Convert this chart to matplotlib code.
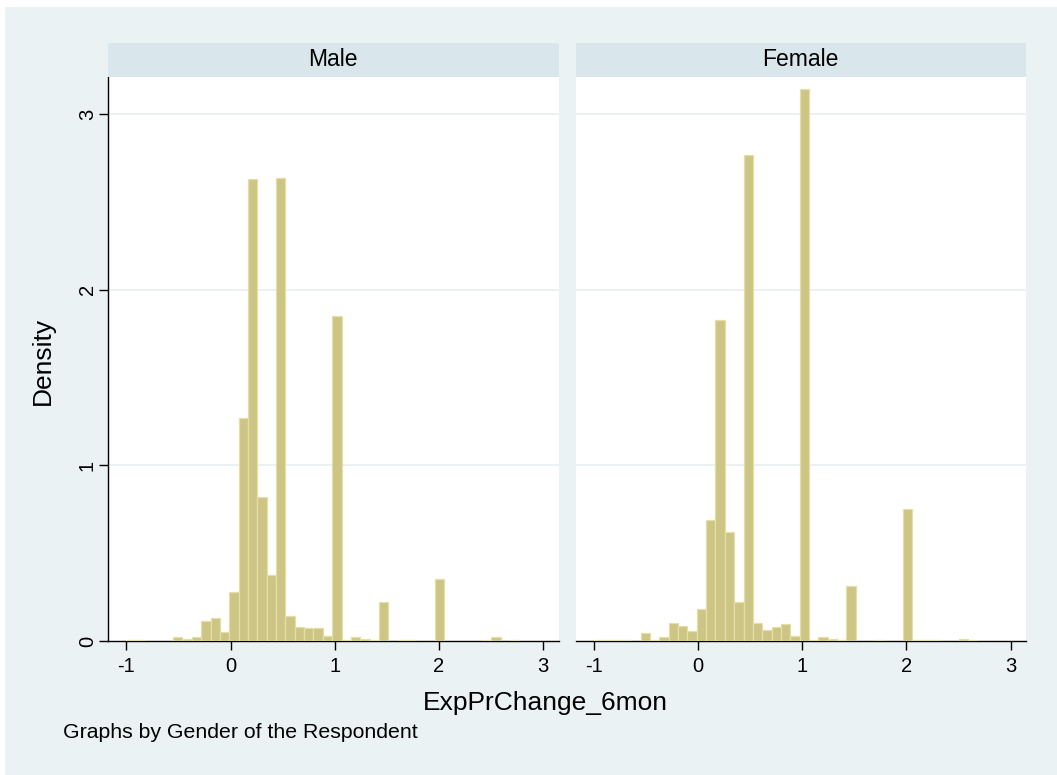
import numpy as np
import matplotlib
matplotlib.use('Agg')
import matplotlib.pyplot as plt
from matplotlib.patches import Rectangle

plt.rcParams['font.family'] = ['Liberation Sans', 'DejaVu Sans']

# histogram bins (shared by both panels)
bin_start = -1.0
bin_width = 0.0898

# density per bin
male = [0.003, 0.003, 0.002, 0.002, 0.002, 0.023, 0.011, 0.025, 0.112, 0.133,
        0.054, 0.277, 1.268, 2.627, 0.821, 0.378, 2.633, 0.140, 0.082, 0.076,
        0.074, 0.027, 1.852, 0.003, 0.020, 0.012, 0.003, 0.222, 0.0, 0.003,
        0.003, 0.0, 0.0, 0.351, 0.0, 0.0, 0.0, 0.0, 0.003, 0.021,
        0.0, 0.003]
female = [0.003, 0.004, 0.004, 0.003, 0.0, 0.044, 0.008, 0.021, 0.102, 0.084,
          0.055, 0.183, 0.690, 1.825, 0.618, 0.222, 2.766, 0.101, 0.063, 0.080,
          0.095, 0.027, 3.141, 0.004, 0.025, 0.009, 0.004, 0.311, 0.0, 0.0,
          0.006, 0.0, 0.0, 0.751, 0.003, 0.003, 0.003, 0.0, 0.0, 0.009,
          0.003, 0.0]
panels = ['Male', 'Female']
xticks = [-1, 0, 1, 2, 3]
yticks = [0, 1, 2, 3]

bg = '#EAF2F3'
strip_c = '#D9E6EB'
bar_c = '#CCC584'
edge_c = '#E4DEA8'

W, H = 1057, 775
fig = plt.figure(figsize=(W / 100, H / 100), dpi=100, facecolor='white')
fig.patches.append(Rectangle((5 / W, 0), 1, 1 - 7 / H, transform=fig.transFigure,
                             facecolor=bg, edgecolor='none', zorder=-10))

edges = bin_start + bin_width * np.arange(len(male))
lefts = [108, 575.5]
for i, (name, vals) in enumerate(zip(panels, [male, female])):
    ax = fig.add_axes([lefts[i] / W, (H - 641) / H, 450.5 / W, 564 / H])
    ax.set_facecolor('white')
    ax.bar(edges, vals, width=bin_width, align='edge', color=bar_c,
           edgecolor=edge_c, linewidth=0.9, zorder=3)
    ax.set_xlim(-1.176, 3.148)
    ax.set_ylim(0, 3.21)
    ax.set_xticks(xticks)
    ax.set_xticklabels([str(t) for t in xticks], fontsize=14.5)
    ax.set_yticks(yticks)
    for y in yticks[1:]:
        ax.axhline(y, color=bg, linewidth=1.4, zorder=1)
    for s in ['top', 'right']:
        ax.spines[s].set_visible(False)
    ax.spines['bottom'].set_linewidth(1.0)
    ax.tick_params(axis='x', length=6.5, width=1.0, pad=5)
    if i == 0:
        ax.spines['left'].set_linewidth(1.0)
        ax.set_yticklabels([str(t) for t in yticks], fontsize=14.5,
                           rotation=90, va='center')
        ax.tick_params(axis='y', length=6.5, width=1.0, pad=1.5)
    else:
        ax.spines['left'].set_visible(False)
        ax.tick_params(axis='y', length=0, labelleft=False)
    # strip title
    sax = fig.add_axes([lefts[i] / W, (H - 77) / H, 450.5 / W, 34 / H])
    sax.set_facecolor(strip_c)
    sax.set_xticks([])
    sax.set_yticks([])
    for s in sax.spines.values():
        s.set_visible(False)
    sax.text(0.5, 0.5, name, ha='center', va='center', fontsize=16.5,
             transform=sax.transAxes)

fig.text(43 / W, 1 - 361 / H, 'Density', rotation=90, ha='center', va='center',
         fontsize=19)
fig.text(545.5 / W, 1 - 703 / H, 'ExpPrChange_6mon', ha='center', va='center',
         fontsize=19)
fig.text(63 / W, 1 - 733 / H, 'Graphs by Gender of the Respondent', ha='left',
         va='center', fontsize=15.3)

fig.savefig('out.png', dpi=100, facecolor='white')
